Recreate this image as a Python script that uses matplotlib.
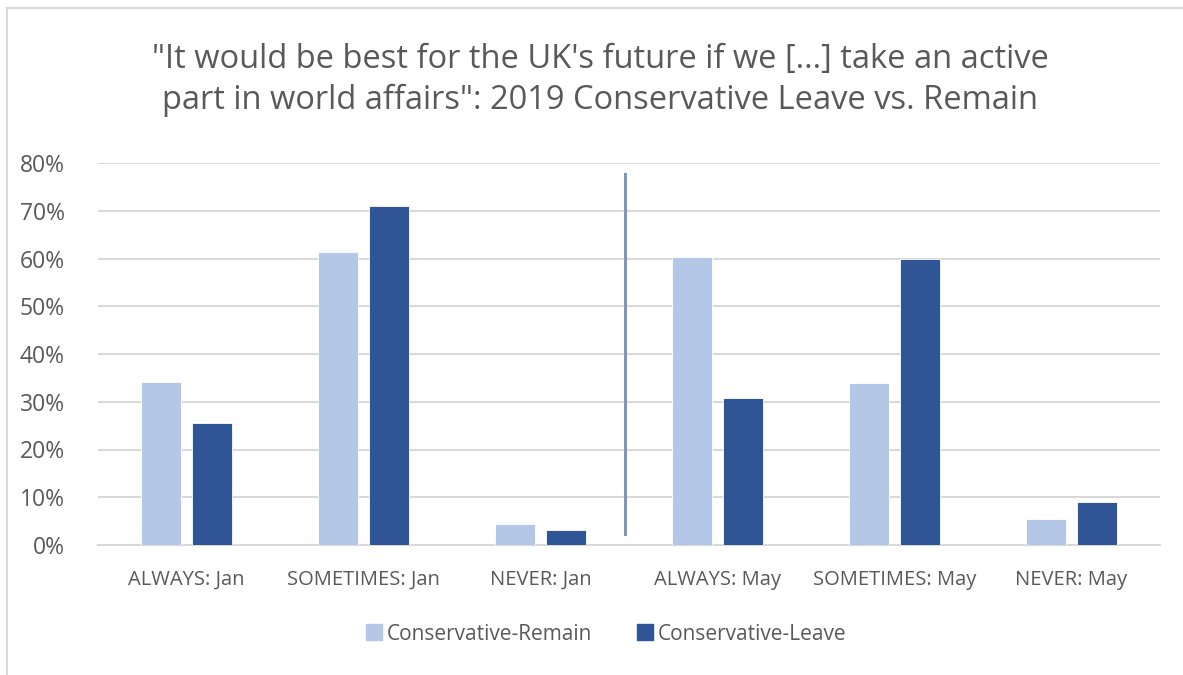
import numpy as np
import matplotlib.pyplot as plt
from matplotlib.lines import Line2D

plt.rcParams['font.family'] = ['Open Sans', 'DejaVu Sans']

# данные опроса
categories = ['ALWAYS: Jan', 'SOMETIMES: Jan', 'NEVER: Jan',
              'ALWAYS: May', 'SOMETIMES: May', 'NEVER: May']
remain = [34.1, 61.3, 4.4, 60.4, 34.0, 5.4]
leave = [25.6, 71.0, 3.1, 30.7, 60.0, 9.1]
series_names = ['Conservative-Remain', 'Conservative-Leave']
yticks = [0, 10, 20, 30, 40, 50, 60, 70, 80]

c_remain = '#b4c7e7'
c_leave = '#2f5597'
c_text = '#595959'
c_grid = '#d9d9d9'

fig = plt.figure(figsize=(11.83, 6.75), dpi=100)
ax = fig.add_axes([98 / 1183, 130 / 675, 1062 / 1183, 382 / 675])

x = np.arange(len(categories))
w = 0.225
off = 0.145
ax.bar(x - off, remain, w, color=c_remain, edgecolor='white', linewidth=0.6,
       label=series_names[0], zorder=3)
ax.bar(x + off, leave, w, color=c_leave, edgecolor='white', linewidth=0.6,
       label=series_names[1], zorder=3)

# разделитель Jan / May
ax.plot([2.48, 2.48], [2.2, 77.6], color='#8096b8', linewidth=2.2, zorder=4)

ax.set_xlim(-0.5, 5.5)
ax.set_ylim(0, 80)
ax.set_yticks(yticks)
ax.set_yticklabels([f'{v}%' for v in yticks])
ax.set_xticks(x)
ax.set_xticklabels(categories)
ax.tick_params(axis='both', length=0, colors=c_text)
ax.tick_params(axis='y', labelsize=16.5, pad=24)
ax.tick_params(axis='x', labelsize=14.5, pad=18)
ax.grid(axis='y', color=c_grid, linewidth=1.5, zorder=0)
for s in ['top', 'right', 'left']:
    ax.spines[s].set_visible(False)
ax.spines['bottom'].set_color(c_grid)
ax.spines['bottom'].set_linewidth(1.5)

fig.text(600 / 1183, 1 - 80 / 675,
         '"It would be best for the UK\'s future if we [...] take an active\n'
         'part in world affairs": 2019 Conservative Leave vs. Remain',
         ha='center', va='center', fontsize=23.5, color=c_text, linespacing=1.3)

handles = [Line2D([], [], marker='s', linestyle='none', markersize=11, color=c)
           for c in (c_remain, c_leave)]
fig.legend(handles, series_names, loc='center', bbox_to_anchor=(604 / 1183, 1 - 634 / 675),
           ncol=2, frameon=False, fontsize=15, handletextpad=0.05, columnspacing=1.9,
           handlelength=1.2, labelcolor=c_text)

# рамка диаграммы
fig.add_artist(Line2D([7 / 1183, 7 / 1183], [0, 1 - 8 / 675], transform=fig.transFigure,
                      color=c_grid, linewidth=1.5))
fig.add_artist(Line2D([7 / 1183, 1], [1 - 8 / 675, 1 - 8 / 675], transform=fig.transFigure,
                      color=c_grid, linewidth=1.5))

fig.savefig('out.png', dpi=100)
